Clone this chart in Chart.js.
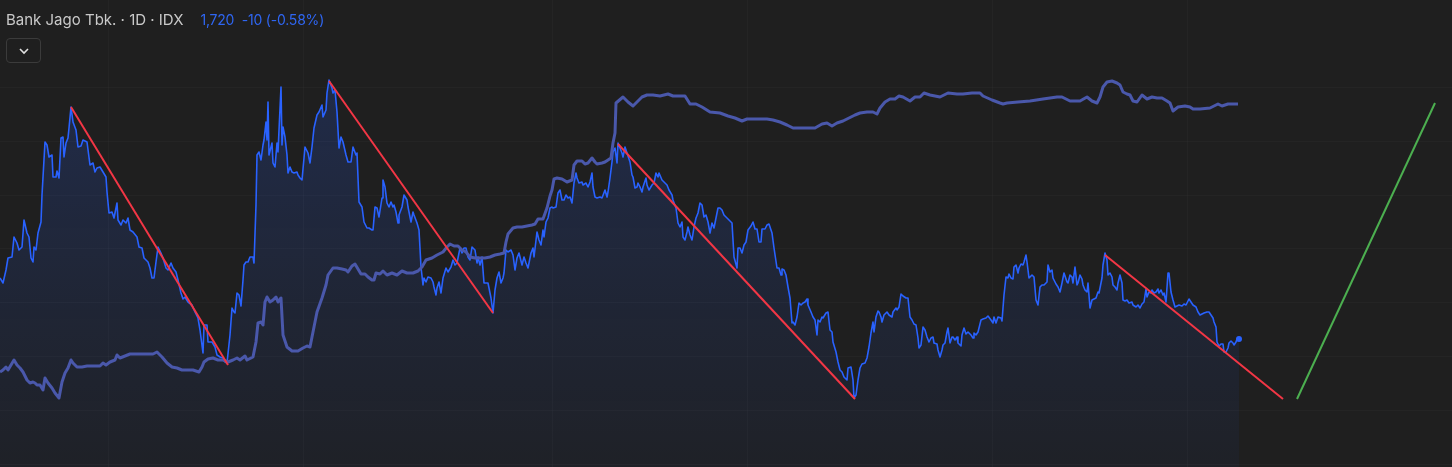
<!DOCTYPE html>
<html>
<head>
<meta charset="utf-8">
<title>Bank Jago Tbk.</title>
<script src="https://cdn.jsdelivr.net/npm/chart.js@4.4.1/dist/chart.umd.min.js"></script>
<style>
    html, body { margin: 0; padding: 0; background: #1f1f1f; }
    #contenedor { position: relative; width: 1452px; height: 467px; }
    canvas { display: block; }
    .titulo {
        position: absolute; left: 6px; top: 11px;
        font: 15px Inter, Roboto, "Liberation Sans", sans-serif;
        color: #c9c9c9; white-space: pre; line-height: 18px;
    }
    .titulo .precio { color: #2f66f2; margin-left: 17px; font-size: 14px; letter-spacing: -0.2px; }
    .boton {
        position: absolute; left: 6px; top: 38px; width: 35px; height: 25px;
        box-sizing: border-box; border: 1px solid #3b3b3b; border-radius: 4px;
    }
    .boton svg { position: absolute; left: 11px; top: 8px; }
</style>
</head>
<body>
<div id="contenedor">
    <canvas id="grafica" width="1452" height="467"></canvas>
    <div class="titulo">Bank Jago Tbk. · 1D · IDX<span class="precio">1,720  -10 (-0.58%)</span></div>
    <div class="boton"><svg width="12" height="8" viewBox="0 0 12 8"><polyline points="2,2 6,6 10,2" fill="none" stroke="#e0e0e0" stroke-width="1.6"/></svg></div>
</div>
<script>
// precio (x = posicion en el tiempo, y = nivel, eje invertido)
const precio = [
[0,278],[3,283],[6,270],[8,258],[12,257],[14,237],[17,243],[19,250],[22,247],[24,220],[27,233],[29,237],[31,258],[33,262],[34,247],[36,250],[38,233],[41,222],[42,195],[45,142],[47,145],[49,157],[52,155],[53,177],[56,177],[57,171],[59,178],[61,138],[63,137],[64,157],[66,143],[68,138],[69,128],[71,107],[73,122],[76,130],[78,147],[81,146],[83,140],[87,142],[90,165],[93,163],[95,172],[97,168],[100,167],[103,172],[106,177],[107,192],[109,213],[112,212],[114,218],[117,203],[118,220],[121,225],[123,220],[126,223],[128,218],[130,230],[133,232],[137,237],[139,247],[142,248],[144,258],[146,260],[148,262],[150,268],[152,278],[154,278],[156,262],[158,247],[161,253],[163,258],[166,268],[168,270],[171,263],[173,268],[176,272],[178,280],[181,293],[183,299],[185,297],[188,302],[192,305],[195,312],[198,318],[200,330],[203,353],[204,325],[207,325],[208,342],[212,342],[215,347],[217,355],[220,357],[223,358],[225,362],[227,363],[230,335],[232,308],[234,312],[235,313],[237,293],[239,295],[241,306],[243,280],[244,265],[246,262],[248,262],[250,257],[253,257],[254,263],[256,205],[257,155],[259,152],[261,160],[263,145],[264,140],[266,122],[267,140],[268,102],[269,155],[272,143],[273,163],[275,167],[277,143],[278,152],[281,87],[282,145],[283,127],[285,137],[287,155],[288,173],[290,167],[292,172],[294,173],[297,172],[298,175],[300,178],[302,180],[305,147],[308,153],[310,163],[312,147],[314,128],[317,115],[319,112],[322,105],[323,117],[326,110],[327,93],[329,80],[332,88],[333,93],[335,90],[337,112],[339,148],[341,137],[343,142],[346,155],[348,162],[351,162],[353,147],[356,155],[357,153],[359,202],[362,207],[364,222],[367,228],[369,228],[372,230],[373,230],[375,207],[377,208],[379,217],[382,198],[383,180],[385,187],[387,203],[389,207],[391,202],[393,207],[394,205],[396,212],[398,223],[399,215],[402,207],[404,195],[407,200],[408,207],[411,222],[413,212],[414,215],[417,223],[419,230],[421,267],[423,285],[424,278],[426,282],[428,277],[431,278],[433,282],[434,287],[436,295],[437,288],[439,282],[441,293],[443,278],[446,268],[448,272],[451,267],[453,260],[455,265],[457,263],[460,248],[462,253],[464,248],[466,248],[468,257],[470,260],[472,247],[475,250],[477,263],[478,257],[480,265],[482,257],[484,283],[488,283],[491,298],[493,313],[495,290],[497,278],[499,272],[501,283],[503,278],[504,273],[506,250],[508,252],[511,250],[513,255],[515,270],[517,258],[519,253],[522,265],[524,257],[526,263],[528,268],[531,253],[533,248],[534,257],[537,232],[539,240],[541,245],[543,230],[544,237],[546,222],[548,218],[550,208],[552,207],[553,208],[556,207],[558,193],[560,190],[562,200],[564,200],[566,195],[568,198],[570,197],[572,203],[574,183],[576,173],[577,178],[579,183],[582,182],[583,185],[586,183],[588,187],[590,182],[592,173],[593,187],[595,197],[597,198],[600,197],[602,198],[605,190],[607,197],[608,192],[610,178],[612,162],[613,152],[615,148],[617,163],[618,143],[620,148],[622,153],[623,157],[625,147],[627,153],[630,162],[632,175],[633,177],[635,188],[637,187],[638,183],[640,187],[642,192],[643,187],[646,178],[647,185],[649,190],[652,185],[654,183],[656,173],[658,177],[659,173],[662,180],[664,182],[667,185],[669,190],[672,195],[673,200],[676,208],[678,223],[680,227],[682,222],[683,237],[685,240],[687,232],[688,227],[690,235],[692,240],[694,227],[696,218],[698,213],[700,203],[702,205],[704,217],[706,215],[708,222],[710,233],[712,223],[714,228],[716,218],[718,208],[720,208],[722,210],[724,215],[727,218],[729,220],[732,223],[734,257],[737,268],[738,248],[740,248],[742,253],[744,245],[746,242],[748,230],[751,226],[753,222],[755,229],[757,229],[759,242],[761,242],[762,229],[765,229],[767,225],[769,224],[772,233],[774,248],[777,268],[779,268],[781,275],[782,269],[784,270],[786,275],[788,287],[790,298],[792,323],[793,322],[795,325],[797,317],[799,303],[801,305],[803,303],[805,302],[807,299],[808,305],[811,312],[813,317],[815,320],[817,335],[818,320],[820,322],[822,317],[823,318],[826,313],[828,312],[830,330],[832,332],[833,342],[836,352],[838,362],[840,370],[842,372],[844,377],[847,380],[848,368],[851,367],[853,380],[854,398],[856,395],[858,380],[860,368],[862,364],[865,363],[867,358],[869,347],[871,333],[873,322],[874,332],[876,317],[878,311],[879,312],[881,317],[882,322],[884,315],[887,312],[889,315],[892,317],[893,312],[896,308],[897,310],[899,307],[901,294],[903,296],[906,298],[908,298],[910,317],[912,320],[914,324],[916,325],[918,338],[919,348],[921,345],[923,327],[925,330],[927,337],[929,342],[931,338],[933,337],[934,343],[937,344],[938,350],[940,357],[942,350],[943,345],[945,343],[947,332],[948,328],[950,343],[952,337],[953,337],[955,340],[957,337],[958,343],[961,346],[962,335],[964,328],[966,334],[968,332],[969,333],[971,335],[973,338],[974,333],[976,335],[978,332],[981,320],[983,319],[986,318],[988,316],[991,320],[993,323],[994,317],[996,323],[998,317],[1001,318],[1002,321],[1004,295],[1006,277],[1008,278],[1009,274],[1011,278],[1013,279],[1014,267],[1016,265],[1018,273],[1019,268],[1021,264],[1023,265],[1024,262],[1026,255],[1027,262],[1029,278],[1032,275],[1034,277],[1036,300],[1038,305],[1040,287],[1042,285],[1044,285],[1047,282],[1048,265],[1050,272],[1052,270],[1053,278],[1056,284],[1058,287],[1060,292],[1062,283],[1064,273],[1067,282],[1068,283],[1070,275],[1072,277],[1073,283],[1075,267],[1077,285],[1078,283],[1080,275],[1082,279],[1083,285],[1085,290],[1087,292],[1088,283],[1090,308],[1092,300],[1094,299],[1096,298],[1098,292],[1099,293],[1102,278],[1103,265],[1105,253],[1107,260],[1108,275],[1110,273],[1112,277],[1113,285],[1115,287],[1117,290],[1118,283],[1120,275],[1122,283],[1123,300],[1125,301],[1127,300],[1129,303],[1132,302],[1133,305],[1136,307],[1138,305],[1140,308],[1142,304],[1144,302],[1146,289],[1147,297],[1149,292],[1151,293],[1152,290],[1154,293],[1156,292],[1158,289],[1159,293],[1161,290],[1163,295],[1164,293],[1166,302],[1168,273],[1169,273],[1171,292],[1173,300],[1175,307],[1177,306],[1179,305],[1182,306],[1184,304],[1186,305],[1187,303],[1189,299],[1191,302],[1193,305],[1196,307],[1198,312],[1200,315],[1202,314],[1204,313],[1207,312],[1209,312],[1211,315],[1213,318],[1214,322],[1216,327],[1217,342],[1219,346],[1221,344],[1223,344],[1224,352],[1226,352],[1228,348],[1229,343],[1231,341],[1233,343],[1234,345],[1236,342],[1237,339],[1239,339]
];

// linea de comparacion (mas gruesa, morada)
const comparacion = [
[0,372],[3,370],[6,367],[8,370],[11,365],[14,360],[17,365],[20,368],[23,372],[27,380],[30,383],[33,382],[35,383],[37,385],[40,385],[43,390],[45,378],[48,383],[52,388],[55,393],[59,398],[62,382],[65,373],[68,368],[71,360],[73,363],[77,367],[82,367],[87,366],[93,366],[100,366],[103,363],[106,365],[110,362],[115,360],[117,355],[120,358],[125,356],[130,354],[140,354],[147,354],[153,354],[157,352],[162,357],[167,363],[172,367],[177,368],[182,370],[187,370],[193,370],[199,372],[202,367],[204,362],[208,359],[213,358],[218,360],[223,360],[228,362],[233,360],[237,358],[240,360],[245,356],[247,360],[253,357],[256,342],[258,323],[261,322],[263,325],[265,302],[267,297],[270,302],[273,300],[276,297],[278,302],[281,298],[283,335],[287,347],[292,351],[298,351],[303,348],[307,346],[310,347],[313,332],[317,312],[322,298],[326,285],[328,275],[333,268],[337,268],[342,269],[346,270],[348,272],[352,266],[355,264],[358,269],[361,274],[365,274],[368,277],[372,280],[374,280],[376,273],[380,274],[383,271],[387,275],[392,273],[397,275],[402,271],[407,273],[413,273],[418,271],[422,267],[426,260],[432,258],[437,255],[443,252],[447,247],[450,244],[454,246],[458,246],[462,250],[466,252],[470,257],[475,258],[480,258],[485,258],[490,257],[495,255],[500,254],[504,253],[506,242],[508,234],[513,228],[517,227],[522,227],[527,226],[532,225],[535,224],[538,219],[543,219],[547,208],[550,196],[552,190],[554,179],[557,178],[562,179],[567,182],[572,180],[574,165],[577,161],[582,161],[585,164],[588,163],[592,158],[595,162],[597,164],[602,163],[605,162],[608,160],[611,158],[613,143],[615,133],[616,103],[623,97],[628,102],[633,106],[637,102],[642,97],[647,95],[653,95],[660,96],[668,94],[673,96],[680,96],[685,96],[690,104],[696,104],[702,107],[710,112],[720,113],[728,116],[735,118],[742,121],[747,119],[757,119],[767,119],[773,120],[780,122],[787,125],[793,128],[800,128],[808,128],[815,128],[822,124],[827,123],[832,126],[837,123],[843,121],[849,118],[855,115],[860,113],[867,112],[873,112],[877,114],[880,108],[885,102],[890,99],[895,99],[899,96],[903,97],[910,101],[915,97],[920,97],[924,93],[930,95],[940,97],[948,93],[957,94],[963,94],[972,93],[980,93],[983,96],[992,100],[1000,103],[1003,104],[1007,103],[1018,102],[1030,101],[1043,99],[1057,97],[1062,97],[1070,101],[1080,101],[1087,97],[1092,101],[1097,103],[1100,97],[1103,87],[1107,82],[1112,81],[1117,83],[1120,85],[1123,92],[1127,94],[1130,95],[1133,101],[1137,102],[1142,95],[1147,99],[1152,97],[1157,98],[1162,98],[1167,101],[1170,103],[1173,111],[1178,107],[1185,106],[1190,107],[1193,109],[1200,109],[1210,108],[1218,104],[1222,106],[1228,104],[1233,104],[1238,104]
];

// lineas de tendencia dibujadas
const tendenciasBajistas = [
    [[71,107],[228,365]],
    [[329,81],[493,313]],
    [[618,144],[855,399]],
    [[1105,255],[1283,399]]
];
const tendenciaAlcista = [[1297,399],[1435,103]];

// cuadricula
const lineasX = [108, 303, 552, 747, 992, 1187];
const lineasY = [87, 141, 195, 248, 302, 356, 410, 464];

const ejeX = [0, 1452];
const ejeY = [0, 467];

const aPuntos = (pares) => pares.map(p => ({ x: p[0], y: p[1] }));

const cuadricula = {
    id: 'cuadricula',
    beforeDatasetsDraw(chart) {
        const { ctx, chartArea, scales } = chart;
        ctx.save();
        ctx.strokeStyle = 'rgba(255,255,255,0.024)';
        ctx.lineWidth = 1;
        lineasX.forEach(v => {
            const px = Math.round(scales.x.getPixelForValue(v)) + 0.5;
            ctx.beginPath(); ctx.moveTo(px, chartArea.top); ctx.lineTo(px, chartArea.bottom); ctx.stroke();
        });
        lineasY.forEach(v => {
            const py = Math.round(scales.y.getPixelForValue(v)) + 0.5;
            ctx.beginPath(); ctx.moveTo(chartArea.left, py); ctx.lineTo(chartArea.right, py); ctx.stroke();
        });
        ctx.restore();
    }
};

const datasetsTendencia = tendenciasBajistas.map(seg => ({
    data: aPuntos(seg),
    borderColor: '#f23645',
    borderWidth: 2,
    pointRadius: 0,
    fill: false,
    order: 0
}));

new Chart(document.getElementById('grafica'), {
    type: 'line',
    data: {
        datasets: [
            ...datasetsTendencia,
            {
                data: aPuntos(tendenciaAlcista),
                borderColor: '#4caf50',
                borderWidth: 2,
                pointRadius: 0,
                fill: false,
                order: 0
            },
            {
                data: aPuntos(comparacion),
                borderColor: '#4a58ab',
                borderWidth: 3,
                pointRadius: 0,
                fill: false,
                order: 1
            },
            {
                data: aPuntos(precio),
                borderColor: '#2962ff',
                borderWidth: 1.6,
                pointRadius: (c) => c.dataIndex === precio.length - 1 ? 3 : 0,
                pointBackgroundColor: '#2962ff',
                pointBorderWidth: 0,
                fill: { target: { value: ejeY[1] } },
                backgroundColor: (c) => {
                    const chart = c.chart;
                    const area = chart.chartArea;
                    if (!area) return 'rgba(41,98,255,0.1)';
                    const g = chart.ctx.createLinearGradient(0, chart.scales.y.getPixelForValue(80), 0, area.bottom);
                    g.addColorStop(0, 'rgba(41,98,255,0.19)');
                    g.addColorStop(1, 'rgba(41,98,255,0.04)');
                    return g;
                },
                order: 2
            }
        ]
    },
    options: {
        responsive: false,
        animation: false,
        layout: { padding: 0, autoPadding: false },
        elements: { line: { tension: 0, borderJoinStyle: 'round' } },
        scales: {
            x: { type: 'linear', min: ejeX[0], max: ejeX[1], display: false },
            y: { type: 'linear', min: ejeY[0], max: ejeY[1], reverse: true, display: false }
        },
        plugins: {
            legend: { display: false },
            tooltip: { enabled: false }
        }
    },
    plugins: [cuadricula]
});
</script>
</body>
</html>
